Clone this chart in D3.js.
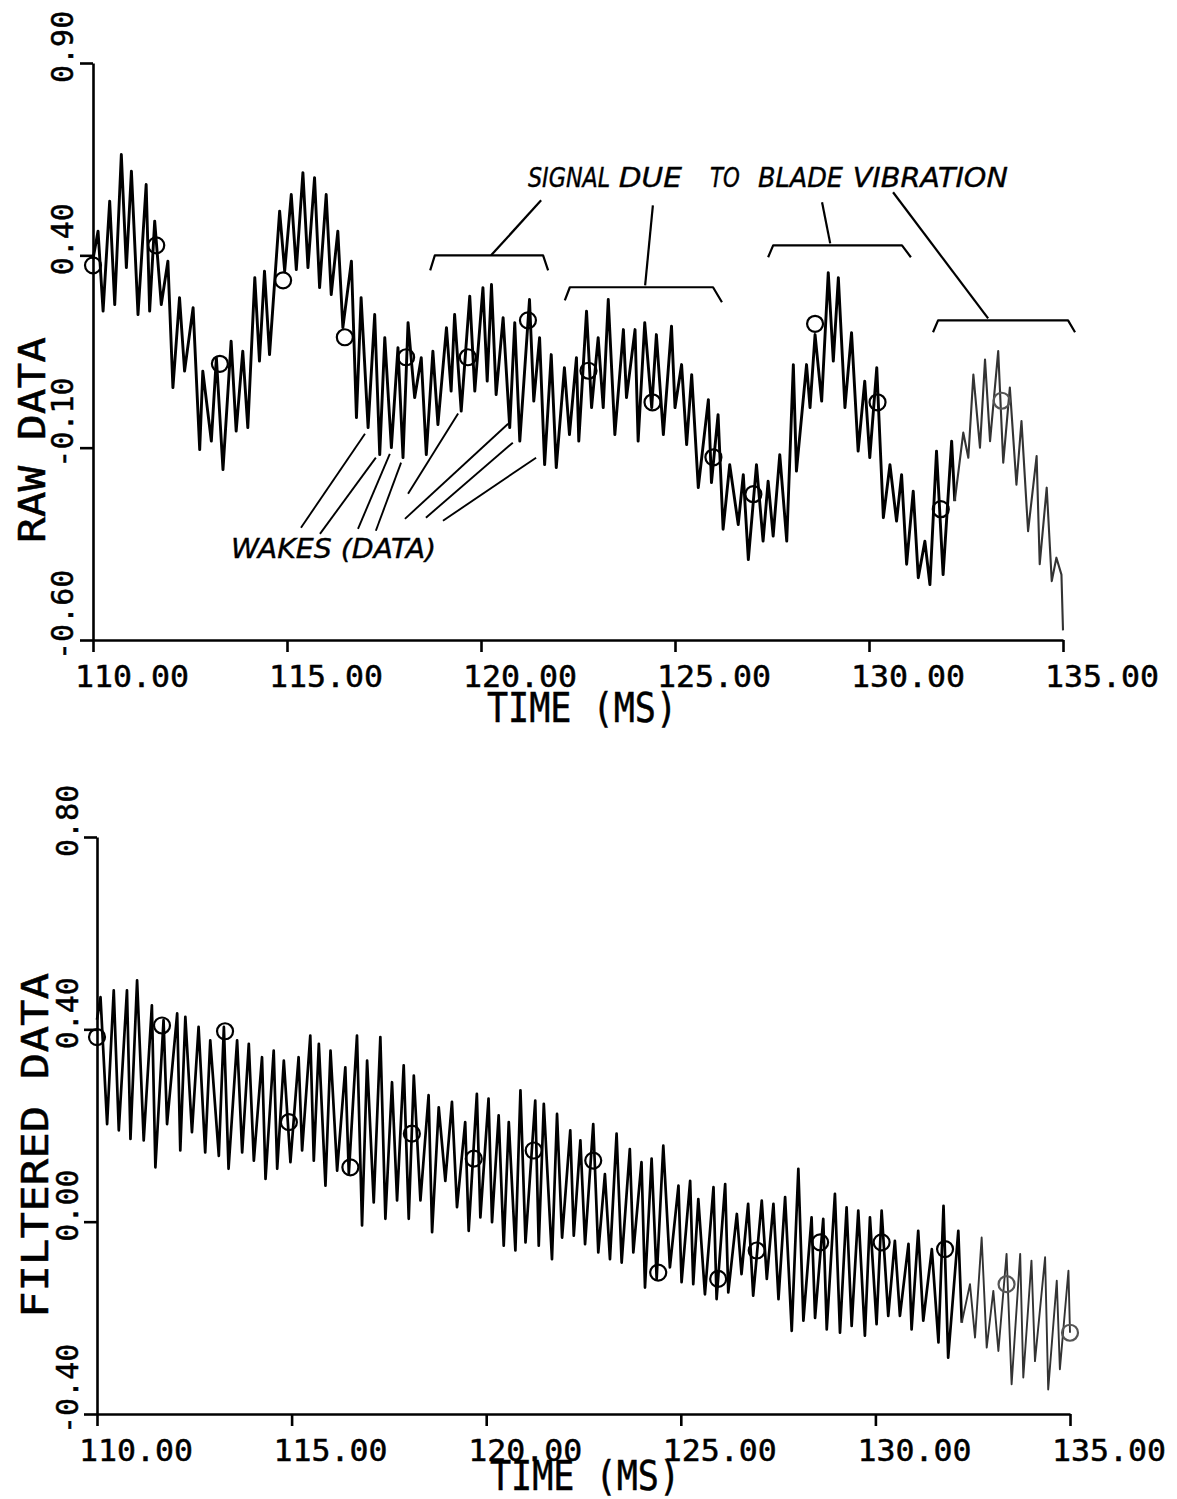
<!DOCTYPE html>
<html>
<head>
<meta charset="utf-8">
<script src="https://cdn.jsdelivr.net/npm/d3@7"></script>
<style>
  html, body { margin: 0; padding: 0; background: #fff; }
  svg { display: block; background: #fff; }
  .mono { font-family: "DejaVu Sans Mono", monospace; fill: #000; stroke: #000; stroke-width: 0.5; }
  .ital { font-family: "DejaVu Sans", sans-serif; font-style: italic; fill: #000; stroke: #000; stroke-width: 0.4; }
</style>
</head>
<body>
<svg id="chart" width="1177" height="1499"></svg>
<script>
// ---------- data ----------
// time axis ticks (ms)
const X_TICKS = [110, 115, 120, 125, 130, 135];
const X_TICK_LABELS = ["110.00", "115.00", "120.00", "125.00", "130.00", "135.00"];

// raw data panel: y ticks
const RAW_Y_TICKS = [0.9, 0.4, -0.1, -0.6];
const RAW_Y_LABELS = ["0.90", "0.40", "-0.10", "-0.60"];

// filtered data panel: y ticks
const FILT_Y_TICKS = [0.8, 0.4, 0.0, -0.4];
const FILT_Y_LABELS = ["0.80", "0.40", "0.00", "-0.40"];

// raw probe signal, time (ms)
const RAW_T = [
  110.00, 110.13, 110.26, 110.43, 110.56, 110.73, 110.86, 110.99, 111.16, 111.37,
  111.46, 111.59, 111.76, 111.93, 112.06, 112.23, 112.36, 112.58, 112.75, 112.83,
  113.05, 113.18, 113.35, 113.56, 113.69, 113.86, 113.99, 114.17, 114.29, 114.42,
  114.55, 114.81, 114.94, 115.11, 115.24, 115.41, 115.54, 115.71, 115.84, 116.01,
  116.14, 116.31, 116.44, 116.66, 116.79, 116.91, 117.09, 117.26, 117.39, 117.52,
  117.69, 117.86, 117.99, 118.12, 118.29, 118.46, 118.59, 118.76, 118.89, 119.11,
  119.23, 119.32, 119.49, 119.71, 119.84, 120.05, 120.16, 120.27, 120.39, 120.57,
  120.74, 120.87, 121.00, 121.25, 121.36, 121.51, 121.64, 121.81, 121.94, 122.15,
  122.28, 122.46, 122.52, 122.72, 122.85, 123.02, 123.15, 123.28, 123.45, 123.67,
  123.75, 123.97, 124.05, 124.22, 124.40, 124.52, 124.70, 124.91, 125.00, 125.17,
  125.30, 125.43, 125.60, 125.86, 125.94, 126.11, 126.24, 126.41, 126.63, 126.76,
  126.89, 127.10, 127.27, 127.40, 127.53, 127.70, 127.88, 128.05, 128.13, 128.39,
  128.48, 128.61, 128.78, 128.95, 129.08, 129.21, 129.38, 129.55, 129.72, 129.89,
  130.02, 130.20, 130.37, 130.54, 130.71, 130.84, 130.97, 131.14, 131.27, 131.44,
  131.57, 131.74, 131.91, 132.13, 132.21, 132.43, 132.56, 132.69, 132.86, 132.99,
  133.12, 133.33, 133.46, 133.63, 133.80, 133.93, 134.10, 134.32, 134.40, 134.58,
  134.71, 134.83, 134.96, 135.00
];
// raw probe signal, value
const RAW_V = [
  0.390, 0.463, 0.255, 0.541, 0.272, 0.662, 0.368, 0.619, 0.246, 0.584,
  0.255, 0.489, 0.272, 0.385, 0.056, 0.290, 0.099, 0.264, -0.105, 0.099,
  -0.083, 0.134, -0.157, 0.177, -0.057, 0.151, -0.048, 0.342, 0.125, 0.359,
  0.142, 0.515, 0.359, 0.558, 0.363, 0.615, 0.368, 0.602, 0.316, 0.558,
  0.298, 0.463, 0.212, 0.385, -0.022, 0.290, -0.048, 0.246, -0.118, 0.186,
  -0.100, 0.160, -0.126, 0.225, 0.030, 0.134, -0.118, 0.151, -0.040, 0.212,
  0.047, 0.246, -0.005, 0.294, 0.047, 0.316, 0.073, 0.324, 0.038, 0.238,
  -0.048, 0.225, -0.083, 0.285, 0.021, 0.186, -0.144, 0.142, -0.152, 0.108,
  -0.066, 0.134, -0.083, 0.255, 0.004, 0.186, 0.004, 0.285, -0.066, 0.207,
  0.030, 0.207, -0.083, 0.225, 0.004, 0.194, -0.066, 0.216, 0.004, 0.116,
  -0.092, 0.090, -0.204, 0.025, -0.191, -0.014, -0.312, -0.144, -0.300, -0.170,
  -0.391, -0.144, -0.343, -0.187, -0.330, -0.118, -0.343, 0.116, -0.161, 0.116,
  0.004, 0.194, 0.021, 0.355, 0.125, 0.342, 0.004, 0.199, -0.109, 0.073,
  -0.126, 0.108, -0.282, -0.144, -0.291, -0.170, -0.403, -0.213, -0.438, -0.343,
  -0.456, -0.109, -0.430, -0.083, -0.239, -0.061, -0.126, 0.090, -0.100, 0.129,
  -0.083, 0.151, -0.139, 0.056, -0.196, -0.031, -0.317, -0.122, -0.403, -0.204,
  -0.447, -0.386, -0.430, -0.575
];
// wake markers on the raw signal
const RAW_MARK_T = [110.00, 111.63, 113.27, 114.90, 116.49, 118.07, 119.66, 121.21,
                    122.77, 124.42, 125.99, 127.02, 128.61, 130.22, 131.85, 133.42];
const RAW_MARK_V = [0.374, 0.426, 0.118, 0.335, 0.187, 0.135, 0.135, 0.231,
                    0.100, 0.018, -0.125, -0.221, 0.222, 0.018, -0.260, 0.022];

// filtered signal, time (ms)
const FILT_T = [
  110.00, 110.09, 110.26, 110.43, 110.56, 110.77, 110.86, 111.03, 111.20, 111.41,
  111.50, 111.71, 111.80, 112.06, 112.14, 112.27, 112.44, 112.61, 112.78, 112.91,
  113.13, 113.26, 113.38, 113.60, 113.73, 113.90, 114.03, 114.24, 114.33, 114.54,
  114.63, 114.80, 114.97, 115.18, 115.27, 115.48, 115.57, 115.70, 115.87, 116.00,
  116.17, 116.38, 116.47, 116.68, 116.81, 116.94, 117.11, 117.28, 117.41, 117.58,
  117.71, 117.88, 118.01, 118.14, 118.31, 118.52, 118.61, 118.78, 118.95, 119.12,
  119.25, 119.46, 119.55, 119.76, 119.85, 120.06, 120.15, 120.32, 120.45, 120.58,
  120.75, 120.88, 121.01, 121.26, 121.35, 121.48, 121.69, 121.82, 121.95, 122.16,
  122.25, 122.42, 122.54, 122.75, 122.88, 123.05, 123.18, 123.35, 123.48, 123.69,
  123.78, 123.99, 124.08, 124.25, 124.38, 124.55, 124.72, 124.94, 125.02, 125.24,
  125.32, 125.45, 125.62, 125.84, 125.92, 126.14, 126.22, 126.44, 126.56, 126.73,
  126.86, 127.08, 127.21, 127.38, 127.51, 127.68, 127.85, 128.02, 128.15, 128.36,
  128.45, 128.66, 128.75, 128.96, 129.09, 129.26, 129.39, 129.56, 129.73, 129.86,
  130.03, 130.16, 130.33, 130.50, 130.63, 130.85, 130.93, 131.10, 131.23, 131.45,
  131.62, 131.75, 131.87, 132.13, 132.22, 132.43, 132.56, 132.73, 132.86, 133.03,
  133.16, 133.37, 133.50, 133.72, 133.80, 134.01, 134.10, 134.36, 134.44, 134.66,
  134.74, 134.96, 135.00
];
// filtered signal, value
const FILT_V = [
  0.420, 0.467, 0.203, 0.481, 0.190, 0.481, 0.172, 0.502, 0.169, 0.450,
  0.113, 0.419, 0.203, 0.433, 0.148, 0.426, 0.186, 0.405, 0.144, 0.377,
  0.137, 0.405, 0.110, 0.377, 0.144, 0.370, 0.127, 0.342, 0.089, 0.356,
  0.110, 0.335, 0.124, 0.342, 0.148, 0.387, 0.127, 0.370, 0.075, 0.356,
  0.106, 0.321, 0.099, 0.387, -0.008, 0.335, 0.040, 0.384, 0.006, 0.290,
  0.044, 0.325, 0.006, 0.304, 0.044, 0.263, -0.022, 0.238, 0.085, 0.249,
  0.030, 0.207, -0.019, 0.266, 0.009, 0.256, -0.001, 0.221, -0.050, 0.207,
  -0.060, 0.273, -0.043, 0.252, -0.050, 0.245, -0.078, 0.224, -0.033, 0.190,
  -0.029, 0.169, -0.047, 0.203, -0.064, 0.099, -0.078, 0.183, -0.085, 0.151,
  -0.064, 0.124, -0.137, 0.131, -0.119, 0.158, -0.095, 0.075, -0.126, 0.085,
  -0.130, 0.047, -0.151, 0.072, -0.161, 0.078, -0.147, 0.016, -0.109, 0.037,
  -0.154, 0.044, -0.119, 0.037, -0.161, 0.051, -0.227, 0.110, -0.206, 0.009,
  -0.200, 0.006, -0.224, 0.058, -0.231, 0.030, -0.217, 0.023, -0.237, 0.009,
  -0.213, 0.023, -0.196, -0.040, -0.196, -0.046, -0.224, -0.019, -0.206, -0.057,
  -0.251, 0.033, -0.283, -0.019, -0.210, -0.130, -0.241, -0.033, -0.262, -0.144,
  -0.269, -0.067, -0.338, -0.067, -0.324, -0.081, -0.290, -0.074, -0.349, -0.123,
  -0.307, -0.102, -0.231
];
// wake markers on the filtered signal
const FILT_MARK_T = [110.00, 111.67, 113.29, 114.93, 116.51, 118.09, 119.68, 121.22, 122.75,
                     124.42, 125.96, 126.95, 128.58, 130.16, 131.79, 133.37, 135.00];
const FILT_MARK_V = [0.384, 0.408, 0.396, 0.207, 0.113, 0.183, 0.131, 0.148, 0.127,
                     -0.106, -0.119, -0.060, -0.043, -0.043, -0.057, -0.130, -0.231];

// ---------- drawing ----------
const svg = d3.select("#chart");
const FADE_T = 132.2;   // the pen trace gets lighter after this time

function drawPanel(cfg) {
  const { x, y, times, values, markT, markV, yTicks, yLabels,
          yLabelX, xLabelY, yTitle, yTitleX, yTitleY, yTitleLen,
          xTitleX, xTitleY, penWidth } = cfg;
  const g = svg.append("g");

  // axes: ticks stick out left of the y axis and below the x axis
  const yAxis = d3.axisLeft(y).tickValues(yTicks).tickSize(13).tickSizeOuter(0).tickFormat("");
  const xAxis = d3.axisBottom(x).tickValues(X_TICKS).tickSize(12).tickSizeOuter(0).tickFormat("");
  g.append("g").attr("transform", `translate(${x.range()[0]},0)`).call(yAxis);
  g.append("g").attr("transform", `translate(0,${y.range()[0]})`).call(xAxis);
  g.selectAll(".domain, .tick line").attr("stroke", "#000").attr("stroke-width", 2.6);

  // y tick labels, written upward from the tick
  g.selectAll(".ylab").data(yTicks).enter().append("text")
    .attr("class", "mono")
    .attr("font-size", 30)
    .attr("text-anchor", "start")
    .attr("transform", (d) => `translate(${yLabelX},${y(d) + 20}) rotate(-90)`)
    .text((d, i) => yLabels[i]);

  // x tick labels
  g.selectAll(".xlab").data(X_TICKS).enter().append("text")
    .attr("class", "mono")
    .attr("font-size", 30)
    .attr("x", (d) => x(d) - 18)
    .attr("y", xLabelY)
    .attr("textLength", 114)
    .attr("lengthAdjust", "spacingAndGlyphs")
    .text((d, i) => X_TICK_LABELS[i]);

  // titles
  g.append("text").attr("class", "mono")
    .attr("font-size", 40)
    .attr("x", xTitleX).attr("y", xTitleY)
    .attr("textLength", 190).attr("lengthAdjust", "spacingAndGlyphs")
    .text("TIME (MS)");
  g.append("text").attr("class", "mono")
    .attr("font-size", 38)
    .attr("transform", `translate(${yTitleX},${yTitleY}) rotate(-90)`)
    .attr("textLength", yTitleLen).attr("lengthAdjust", "spacingAndGlyphs")
    .text(yTitle);

  // signal trace
  const pts = times.map((t, i) => [t, values[i]]);
  const line = d3.line().x((d) => x(d[0])).y((d) => y(d[1]));
  const k = pts.findIndex((d) => d[0] >= FADE_T);
  g.append("path").datum(pts.slice(0, k + 1))
    .attr("d", line).attr("fill", "none")
    .attr("stroke", "#000").attr("stroke-width", penWidth)
    .attr("stroke-linejoin", "round");
  g.append("path").datum(pts.slice(k))
    .attr("d", line).attr("fill", "none")
    .attr("stroke", "#333").attr("stroke-width", penWidth - 0.8)
    .attr("stroke-linejoin", "round");

  // wake markers
  g.selectAll(".mark").data(markT).enter().append("circle")
    .attr("cx", (d) => x(d))
    .attr("cy", (d, i) => y(markV[i]))
    .attr("r", 8)
    .attr("fill", "none")
    .attr("stroke", (d) => d > FADE_T ? "#555" : "#000")
    .attr("stroke-width", 2.2);
  return g;
}

// upper panel: raw data
const xRaw = d3.scaleLinear().domain([110, 135]).range([93, 1063]);
const yRaw = d3.scaleLinear().domain([-0.6, 0.9]).range([640, 63]);
const gRaw = drawPanel({
  x: xRaw, y: yRaw, times: RAW_T, values: RAW_V,
  markT: RAW_MARK_T, markV: RAW_MARK_V,
  yTicks: RAW_Y_TICKS, yLabels: RAW_Y_LABELS,
  yLabelX: 73, xLabelY: 687,
  yTitle: "RAW DATA", yTitleX: 45, yTitleY: 543, yTitleLen: 206,
  xTitleX: 487, xTitleY: 722, penWidth: 2.9
});

// lower panel: filtered data
const xFilt = d3.scaleLinear().domain([110, 135]).range([97, 1070]);
const yFilt = d3.scaleLinear().domain([-0.4, 0.8]).range([1414, 837]);
drawPanel({
  x: xFilt, y: yFilt, times: FILT_T, values: FILT_V,
  markT: FILT_MARK_T, markV: FILT_MARK_V,
  yTicks: FILT_Y_TICKS, yLabels: FILT_Y_LABELS,
  yLabelX: 78, xLabelY: 1461,
  yTitle: "FILTERED DATA", yTitleX: 48, yTitleY: 1318, yTitleLen: 345,
  xTitleX: 490, xTitleY: 1490, penWidth: 2.7
});

// ---------- annotations on the raw panel (in time / value units) ----------
const ann = gRaw.append("g")
  .attr("fill", "none").attr("stroke", "#000").attr("stroke-width", 2.2)
  .attr("stroke-linejoin", "round");
const pathOf = d3.line().x((d) => xRaw(d[0])).y((d) => yRaw(d[1]));

// brackets over the blade vibration stretches
const brackets = [
  [[118.69, 0.361], [118.81, 0.400], [121.60, 0.400], [121.73, 0.361]],
  [[122.16, 0.283], [122.29, 0.317], [125.98, 0.317], [126.21, 0.278]],
  [[127.40, 0.395], [127.53, 0.426], [130.85, 0.426], [131.08, 0.395]],
  [[131.65, 0.200], [131.78, 0.231], [135.13, 0.231], [135.31, 0.200]]
];
// leaders from the caption to each bracket
const leaders = [
  [[121.55, 0.543], [120.26, 0.400]],
  [[124.43, 0.530], [124.23, 0.322]],
  [[128.79, 0.538], [129.00, 0.431]],
  [[130.62, 0.564], [133.07, 0.236]]
];
// leaders from the wake caption to the wake dips
const wakeLeaders = [
  [[115.36, -0.308], [117.01, -0.064]],
  [[115.85, -0.324], [117.29, -0.126]],
  [[116.83, -0.311], [117.65, -0.116]],
  [[117.29, -0.316], [117.94, -0.139]],
  [[118.12, -0.220], [119.41, -0.011]],
  [[118.04, -0.285], [120.70, -0.038]],
  [[118.58, -0.282], [120.82, -0.087]],
  [[119.02, -0.290], [121.42, -0.126]]
];
brackets.concat(leaders).forEach((p) => ann.append("path").attr("d", pathOf(p)));
wakeLeaders.forEach((p) => ann.append("path").attr("d", pathOf(p)).attr("stroke-width", 1.9));

// caption: one element per word so the plotter spacing is kept
const captionWords = [
  { w: "SIGNAL", t0: 121.21, t1: 123.33 },
  { w: "DUE", t0: 123.55, t1: 125.18 },
  { w: "TO", t0: 125.90, t1: 126.67 },
  { w: "BLADE", t0: 127.14, t1: 129.33 },
  { w: "VIBRATION", t0: 129.58, t1: 133.58 }
];
gRaw.selectAll(".cap").data(captionWords).enter().append("text")
  .attr("class", "ital")
  .attr("font-size", 27)
  .attr("x", (d) => xRaw(d.t0))
  .attr("y", yRaw(0.578))
  .attr("textLength", (d) => xRaw(d.t1) - xRaw(d.t0))
  .attr("lengthAdjust", "spacingAndGlyphs")
  .text((d) => d.w);

gRaw.append("text")
  .attr("class", "ital")
  .attr("font-size", 27)
  .attr("x", xRaw(113.56))
  .attr("y", yRaw(-0.387))
  .attr("textLength", 205)
  .attr("lengthAdjust", "spacingAndGlyphs")
  .text("WAKES (DATA)");
</script>
</body>
</html>
